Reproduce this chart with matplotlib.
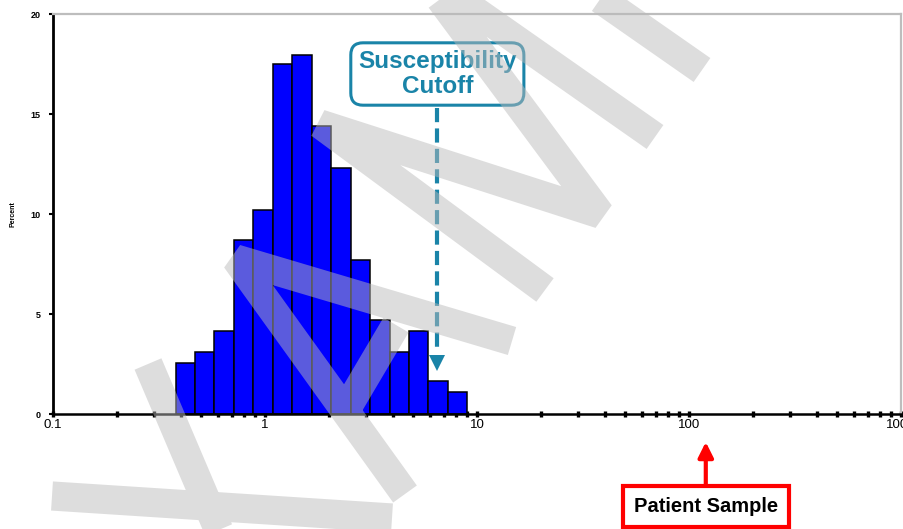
import numpy as np
import matplotlib
matplotlib.use("Agg")
import matplotlib.pyplot as plt
from matplotlib.path import Path
from matplotlib.patches import PathPatch
from matplotlib.transforms import Affine2D
from matplotlib.ticker import LogLocator, FixedLocator, NullFormatter, FixedFormatter

plt.rcParams['font.family'] = ['Liberation Sans', 'DejaVu Sans']

# ---------------- data ----------------
bin_edges = [0.38, 0.468, 0.577, 0.714, 0.881, 1.09, 1.345, 1.666, 2.05,
             2.545, 3.14, 3.87, 4.78, 5.89, 7.27, 8.97]
percent = [2.55, 3.08, 4.13, 8.7, 10.2, 17.5, 17.95, 14.4, 12.3, 7.7,
           4.7, 3.08, 4.15, 1.65, 1.1]
x_ticks = [0.1, 1, 10, 100, 1000]
x_ticklabels = ['0.1', '1', '10', '100', '1000']
y_ticks = [0, 5, 10, 15, 20]
y_ticklabels = ['0', '5', '10', '15', '20']
cutoff_value = 6.5
patient_value = 120
cutoff_label = 'Susceptibility\nCutoff'
patient_label = 'Patient Sample'
y_label = 'Percent'

# watermark strokes (figure pixel coordinates, y downward) - decoration only
watermark_strokes = [
    [(148, 364), (225, 545)],
    [(52, 496), (392, 518)],
    [(512, 341), (236, 259), (405, 494)],
    [(344, 413), (396, 325)],
    [(545, 290), (320, 124), (600, 214), (430, -15)],
    [(655, 137), (431, -20)],
    [(702, 70), (573, -20)],
]

W, H = 904, 529
fig = plt.figure(figsize=(W / 100, H / 100), dpi=100)
ax = fig.add_axes([53 / W, 1 - 414 / H, (901 - 53) / W, 400 / H])

edges = np.array(bin_edges)
ax.bar(edges[:-1], percent, width=np.diff(edges), align='edge',
       color='#0000ff', edgecolor='black', linewidth=1.1, zorder=2)

ax.set_xscale('log')
ax.set_xlim(0.1, 1000)
ax.set_ylim(0, 20)

ax.xaxis.set_major_locator(FixedLocator(x_ticks))
ax.xaxis.set_major_formatter(FixedFormatter(x_ticklabels))
ax.xaxis.set_minor_locator(LogLocator(base=10, subs=np.arange(2, 10)))
ax.xaxis.set_minor_formatter(NullFormatter())
ax.set_yticks(y_ticks)
ax.set_yticklabels(y_ticklabels)

ax.tick_params(axis='x', which='both', direction='inout', length=5, width=2.4,
               color='black', labelsize=9.5, pad=1)
ax.tick_params(axis='y', which='major', direction='out', length=3, width=1.5,
               labelsize=6.5, pad=6)
for lab in ax.get_yticklabels():
    lab.set_fontweight('bold')

ax.spines['bottom'].set_linewidth(1.8)
ax.spines['left'].set_linewidth(2.0)
ax.spines['top'].set_color('#bdbdbd')
ax.spines['top'].set_linewidth(1.6)
ax.spines['right'].set_color('#bdbdbd')
ax.spines['right'].set_linewidth(1.6)
ax.spines['bottom'].set_zorder(5)

ax.set_ylabel(y_label, fontsize=5, fontweight='bold', labelpad=10)

# Susceptibility cutoff annotation
teal = '#1a84a8'
ax.text(cutoff_value, 17.0, cutoff_label, ha='center', va='center',
        fontsize=17.5, fontweight='bold', color=teal, linespacing=1.1,
        bbox=dict(boxstyle='round,pad=0.3,rounding_size=0.5', fc='white',
                  ec=teal, lw=2.2), zorder=6)
ax.plot([cutoff_value, cutoff_value], [15.3, 3.2], color=teal, lw=3,
        linestyle=(0, (3.4, 1.5)), zorder=6, solid_capstyle='butt')
ax.plot([cutoff_value], [2.55], marker='v', markersize=11, color=teal,
        markeredgewidth=0, zorder=6, clip_on=False)

# Patient sample annotation
xtr = ax.get_xaxis_transform()
ax.annotate('', xy=(patient_value, -0.07), xytext=(patient_value, -0.18),
            xycoords=xtr, textcoords=xtr,
            arrowprops=dict(arrowstyle='-|>,head_width=0.45,head_length=0.9',
                            color='#ff0000', lw=3, shrinkA=0, shrinkB=0),
            annotation_clip=False)
ax.text(patient_value, -0.232, patient_label, transform=xtr, ha='center',
        va='center', fontsize=14.5, fontweight='bold', color='black',
        bbox=dict(boxstyle='square,pad=0.55', fc='white', ec='#ff0000', lw=3),
        clip_on=False, zorder=6)

# watermark
verts, codes = [], []
for stroke in watermark_strokes:
    for i, p in enumerate(stroke):
        verts.append(p)
        codes.append(Path.MOVETO if i == 0 else Path.LINETO)
wm_path = Path(verts, codes)
pix = Affine2D().scale(1 / W, -1 / H).translate(0, 1) + fig.transFigure
wm = PathPatch(wm_path, transform=pix, fill=False, edgecolor='#bababa',
               alpha=0.49, linewidth=21, joinstyle='bevel', capstyle='butt',
               zorder=20)
fig.add_artist(wm)

fig.savefig('out.png', dpi=100)
